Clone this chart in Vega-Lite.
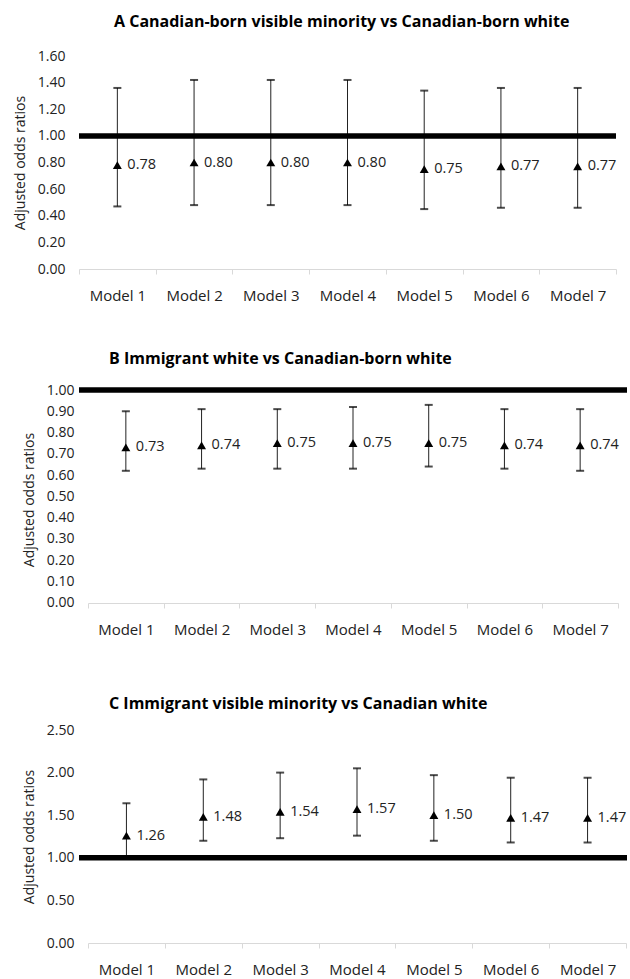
{
  "$schema": "https://vega.github.io/schema/vega-lite/v6.json",
  "padding": {"left": 13, "top": 14, "right": 0, "bottom": 0},
  "bounds": "flush",
  "spacing": 121,
  "config": {
    "view": {"stroke": null},
    "font": "Open Sans",
    "axis": {"labelFont": "Open Sans", "titleFont": "Open Sans", "labelColor": "#222", "titleColor": "#222", "grid": false},
    "title": {"font": "Open Sans", "fontWeight": "bold", "fontSize": 16, "anchor": "start", "frame": "group", "color": "#000"}
  },
  "vconcat": [
    {
      "width": 537, "height": 213,
      "title": {"text": "A Canadian-born visible minority vs Canadian-born white", "dx": 35, "offset": 19},
      "layer": [
        {
          "data": {"values": [
            {"model": "Model 1", "or": 0.78, "lo": 0.47, "hi": 1.36},
            {"model": "Model 2", "or": 0.80, "lo": 0.48, "hi": 1.42},
            {"model": "Model 3", "or": 0.80, "lo": 0.48, "hi": 1.42},
            {"model": "Model 4", "or": 0.80, "lo": 0.48, "hi": 1.42},
            {"model": "Model 5", "or": 0.75, "lo": 0.45, "hi": 1.34},
            {"model": "Model 6", "or": 0.77, "lo": 0.46, "hi": 1.36},
            {"model": "Model 7", "or": 0.77, "lo": 0.46, "hi": 1.36}
          ]},
          "encoding": {
            "x": {"field": "model", "type": "nominal", "sort": null,
              "scale": {"paddingInner": 0, "paddingOuter": 0},
              "axis": {"title": null, "labelAngle": 0, "tickBand": "extent", "domainColor": "#d9d9d9", "tickColor": "#d9d9d9", "tickSize": 5, "labelFontSize": 15, "labelPadding": 14}}
          },
          "layer": [
            {"mark": {"type": "rule", "color": "#222", "strokeWidth": 1},
             "encoding": {
               "y": {"field": "lo", "type": "quantitative", "title": "Adjusted odds ratios",
                 "scale": {"domain": [0, 1.6], "nice": false, "zero": false},
                 "axis": {"values": [0, 0.2, 0.4, 0.6, 0.8, 1.0, 1.2, 1.4, 1.6], "tickCount": 30, "format": ".2f", "domain": false, "ticks": false, "labelOverlap": false, "labelFlush": false, "labelPadding": 14, "titlePadding": 10, "labelFontSize": 14, "titleFontSize": 14, "titleFontWeight": "normal"}},
               "y2": {"field": "hi"}}},
            {"mark": {"type": "tick", "thickness": 2, "size": 8, "color": "black"},
             "encoding": {"y": {"field": "lo", "type": "quantitative", "title": "Adjusted odds ratios"}}},
            {"mark": {"type": "tick", "thickness": 2, "size": 8, "color": "black"},
             "encoding": {"y": {"field": "hi", "type": "quantitative", "title": "Adjusted odds ratios"}}},
            {"mark": {"type": "point", "shape": "triangle-up", "filled": true, "size": 80, "color": "black", "opacity": 1},
             "encoding": {"y": {"field": "or", "type": "quantitative", "title": "Adjusted odds ratios"}}},
            {"mark": {"type": "text", "align": "left", "baseline": "middle", "dx": 10, "fontSize": 14.5, "color": "#222"},
             "encoding": {"y": {"field": "or", "type": "quantitative", "title": "Adjusted odds ratios"}, "text": {"field": "or", "type": "quantitative", "format": ".2f"}}}
          ]
        },
        {
          "data": {"values": [{"ref": 1}]},
          "mark": {"type": "rule", "strokeWidth": 5.5, "color": "black"},
          "encoding": {"y": {"field": "ref", "type": "quantitative", "title": "Adjusted odds ratios"}}
        }
      ]
    },
    {
      "width": 548, "height": 219,
      "title": {"text": "B Immigrant white vs Canadian-born white", "dx": 30, "offset": 16},
      "layer": [
        {
          "data": {"values": [
            {"model": "Model 1", "or": 0.73, "lo": 0.62, "hi": 0.90},
            {"model": "Model 2", "or": 0.74, "lo": 0.63, "hi": 0.91},
            {"model": "Model 3", "or": 0.75, "lo": 0.63, "hi": 0.91},
            {"model": "Model 4", "or": 0.75, "lo": 0.63, "hi": 0.92},
            {"model": "Model 5", "or": 0.75, "lo": 0.64, "hi": 0.93},
            {"model": "Model 6", "or": 0.74, "lo": 0.63, "hi": 0.91},
            {"model": "Model 7", "or": 0.74, "lo": 0.62, "hi": 0.91}
          ]},
          "encoding": {
            "x": {"field": "model", "type": "nominal", "sort": null,
              "scale": {"paddingInner": 0, "paddingOuter": 0, "range": [9, 539]},
              "axis": {"title": null, "labelAngle": 0, "tickBand": "extent", "domainColor": "#d9d9d9", "tickColor": "#d9d9d9", "tickSize": 5, "labelFontSize": 15, "labelPadding": 14, "offset": -6}}
          },
          "layer": [
            {"mark": {"type": "rule", "color": "#222", "strokeWidth": 1},
             "encoding": {
               "y": {"field": "lo", "type": "quantitative", "title": "Adjusted odds ratios",
                 "scale": {"domain": [-0.03, 1.0], "nice": false, "zero": false},
                 "axis": {"values": [0, 0.1, 0.2, 0.3, 0.4, 0.5, 0.6, 0.7, 0.8, 0.9, 1.0], "tickCount": 30, "format": ".2f", "domain": false, "ticks": false, "labelOverlap": false, "labelFlush": false, "labelPadding": 14, "titlePadding": 10, "labelFontSize": 14, "titleFontSize": 14, "titleFontWeight": "normal", "offset": -9}},
               "y2": {"field": "hi"}}},
            {"mark": {"type": "tick", "thickness": 2, "size": 8, "color": "black"},
             "encoding": {"y": {"field": "lo", "type": "quantitative", "title": "Adjusted odds ratios"}}},
            {"mark": {"type": "tick", "thickness": 2, "size": 8, "color": "black"},
             "encoding": {"y": {"field": "hi", "type": "quantitative", "title": "Adjusted odds ratios"}}},
            {"mark": {"type": "point", "shape": "triangle-up", "filled": true, "size": 80, "color": "black", "opacity": 1},
             "encoding": {"y": {"field": "or", "type": "quantitative", "title": "Adjusted odds ratios"}}},
            {"mark": {"type": "text", "align": "left", "baseline": "middle", "dx": 10, "fontSize": 14.5, "color": "#222"},
             "encoding": {"y": {"field": "or", "type": "quantitative", "title": "Adjusted odds ratios"}, "text": {"field": "or", "type": "quantitative", "format": ".2f"}}}
          ]
        },
        {
          "data": {"values": [{"ref": 1}]},
          "mark": {"type": "rule", "strokeWidth": 5.5, "color": "black"},
          "encoding": {"y": {"field": "ref", "type": "quantitative", "title": "Adjusted odds ratios"}}
        }
      ]
    },
    {
      "width": 548, "height": 213,
      "title": {"text": "C Immigrant visible minority vs Canadian white", "dx": 30, "offset": 11},
      "layer": [
        {
          "data": {"values": [
            {"model": "Model 1", "or": 1.26, "lo": 0.99, "hi": 1.64},
            {"model": "Model 2", "or": 1.48, "lo": 1.20, "hi": 1.92},
            {"model": "Model 3", "or": 1.54, "lo": 1.23, "hi": 2.00},
            {"model": "Model 4", "or": 1.57, "lo": 1.26, "hi": 2.05},
            {"model": "Model 5", "or": 1.50, "lo": 1.20, "hi": 1.97},
            {"model": "Model 6", "or": 1.47, "lo": 1.18, "hi": 1.94},
            {"model": "Model 7", "or": 1.47, "lo": 1.18, "hi": 1.94}
          ]},
          "encoding": {
            "x": {"field": "model", "type": "nominal", "sort": null,
              "scale": {"paddingInner": 0, "paddingOuter": 0, "range": [9, 547]},
              "axis": {"title": null, "labelAngle": 0, "tickBand": "extent", "domainColor": "#d9d9d9", "tickColor": "#d9d9d9", "tickSize": 5, "labelFontSize": 15, "labelPadding": 14}}
          },
          "layer": [
            {"mark": {"type": "rule", "color": "#222", "strokeWidth": 1},
             "encoding": {
               "y": {"field": "lo", "type": "quantitative", "title": "Adjusted odds ratios",
                 "scale": {"domain": [0, 2.5], "nice": false, "zero": false},
                 "axis": {"values": [0, 0.5, 1.0, 1.5, 2.0, 2.5], "tickCount": 30, "format": ".2f", "domain": false, "ticks": false, "labelOverlap": false, "labelFlush": false, "labelPadding": 14, "titlePadding": 10, "labelFontSize": 14, "titleFontSize": 14, "titleFontWeight": "normal", "offset": -9}},
               "y2": {"field": "hi"}}},
            {"mark": {"type": "tick", "thickness": 2, "size": 8, "color": "black"},
             "encoding": {"y": {"field": "lo", "type": "quantitative", "title": "Adjusted odds ratios"}}},
            {"mark": {"type": "tick", "thickness": 2, "size": 8, "color": "black"},
             "encoding": {"y": {"field": "hi", "type": "quantitative", "title": "Adjusted odds ratios"}}},
            {"mark": {"type": "point", "shape": "triangle-up", "filled": true, "size": 80, "color": "black", "opacity": 1},
             "encoding": {"y": {"field": "or", "type": "quantitative", "title": "Adjusted odds ratios"}}},
            {"mark": {"type": "text", "align": "left", "baseline": "middle", "dx": 10, "fontSize": 14.5, "color": "#222"},
             "encoding": {"y": {"field": "or", "type": "quantitative", "title": "Adjusted odds ratios"}, "text": {"field": "or", "type": "quantitative", "format": ".2f"}}}
          ]
        },
        {
          "data": {"values": [{"ref": 1}]},
          "mark": {"type": "rule", "strokeWidth": 5.5, "color": "black"},
          "encoding": {"y": {"field": "ref", "type": "quantitative", "title": "Adjusted odds ratios"}}
        }
      ]
    }
  ]
}
